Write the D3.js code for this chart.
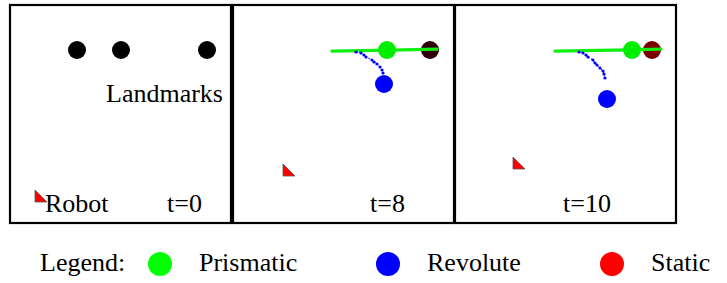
<!DOCTYPE html>
<html>
<head>
<meta charset="utf-8">
<script src="https://cdn.jsdelivr.net/npm/d3@7"></script>
<style>
  body { margin: 0; background: #fff; }
  svg text { font-family: "Times New Roman", "Liberation Serif", "DejaVu Serif", serif; }
</style>
</head>
<body>
<svg id="chart" width="727" height="283"></svg>
<script>
/* Daten: Panel-Koordinaten (0..221 x 0..218) */
var panelLabels = ["t=0", "t=8", "t=10"];
var panelLeft = [10, 233, 455];
var robotPos = [[25, 185], [50, 159], [58, 152]];
var landmarks = [[67, 45], [111, 45], [197, 45]];
var prismaticPos = [null, [154, 45], [177, 45]];
var revolutePos = [null, [151, 79], [152, 94]];
var staticPos = [null, [197, 45], [197, 45]];
var staticColor = [null, "#2e0006", "#7a0000"];
var prismaticTrack = [null,
  [[99, 46.2], [130, 45.6], [170, 44.8], [204, 44.2]],
  [[100, 46.2], [130, 45.6], [175, 44.8], [206, 44.2]]];
var revoluteTrack = [null,
  [[123, 47], [128, 48], [131, 50], [133, 52], [139, 55], [141, 57], [144, 59], [147, 62], [149, 65], [150, 68]],
  [[124, 47], [128, 48], [131, 50], [133, 52], [138, 55], [140, 58], [142, 60], [145, 63], [148, 66], [149, 69], [150, 73]]];
var legendNames = ["Prismatic", "Revolute", "Static"];
var legendColors = ["#00ff00", "#0000ff", "#ff0000"];
var legendX = [160, 388, 612];

var svg = d3.select("#chart");
var pw = 221, ph = 218, top0 = 5;
var x = d3.scaleLinear().domain([0, 221]).range([0, pw]);
var y = d3.scaleLinear().domain([0, 218]).range([0, ph]);
var line = d3.line().x(function(d) {return x(d[0]);}).y(function(d) {return y(d[1]);});

function label(g, tx, ty, s) {
  return g.append("text").attr("x", tx).attr("y", ty).attr("font-size", "26px")
    .attr("transform", "translate(" + tx + ",0) scale(1.0,1) translate(" + (-tx) + ",0)").text(s);
}

panelLabels.forEach(function(lbl, i) {
  var g = svg.append("g").attr("transform", "translate(" + panelLeft[i] + "," + top0 + ")");
  g.append("rect").attr("width", pw).attr("height", ph)
    .attr("fill", "white").attr("stroke", "black").attr("stroke-width", 2.2);

  if (i == 0) {
    g.selectAll(".lm").data(landmarks).enter().append("circle")
      .attr("cx", function(d) {return x(d[0]);}).attr("cy", function(d) {return y(d[1]);})
      .attr("r", 9).attr("fill", "black");
    label(g, x(96), y(97), "Landmarks");
    label(g, x(35), y(207), "Robot");
  } else {
    g.append("circle").attr("cx", x(staticPos[i][0])).attr("cy", y(staticPos[i][1]))
      .attr("r", 9).attr("fill", staticColor[i]);
    g.append("path").attr("d", line(prismaticTrack[i])).attr("fill", "none")
      .attr("stroke", "#11ee11").attr("stroke-width", 3.2).attr("stroke-linecap", "round");
    g.append("circle").attr("cx", x(prismaticPos[i][0])).attr("cy", y(prismaticPos[i][1]))
      .attr("r", 9).attr("fill", "#00ee00");
    g.append("path").attr("d", line(revoluteTrack[i])).attr("fill", "none")
      .attr("stroke", "#0000ff").attr("stroke-width", 1).attr("stroke-dasharray", "2,1.5");
    g.selectAll(".rt").data(revoluteTrack[i]).enter().append("circle")
      .attr("cx", function(d) {return x(d[0]);}).attr("cy", function(d) {return y(d[1]);})
      .attr("r", 1.6).attr("fill", "#0000ff");
    g.append("circle").attr("cx", x(revolutePos[i][0])).attr("cy", y(revolutePos[i][1]))
      .attr("r", 9).attr("fill", "#0000ff");
  }

  var r = robotPos[i];
  g.append("path").attr("d", line([[r[0], r[1]], [r[0], r[1] + 12], [r[0] + 12, r[1] + 12]]) + "Z")
    .attr("fill", "#ff0000").attr("stroke", "#555").attr("stroke-width", 0.8);

  var tx = [157, 137, 108][i];
  label(g, x(tx), y(207), lbl);
});

/* Legende */
var ly = 264;
label(svg, 40, ly + 7, "Legend:");
legendNames.forEach(function(n, i) {
  svg.append("circle").attr("cx", legendX[i]).attr("cy", ly).attr("r", 12).attr("fill", legendColors[i]);
  label(svg, legendX[i] + 39, ly + 7, n);
});
</script>
</body>
</html>
